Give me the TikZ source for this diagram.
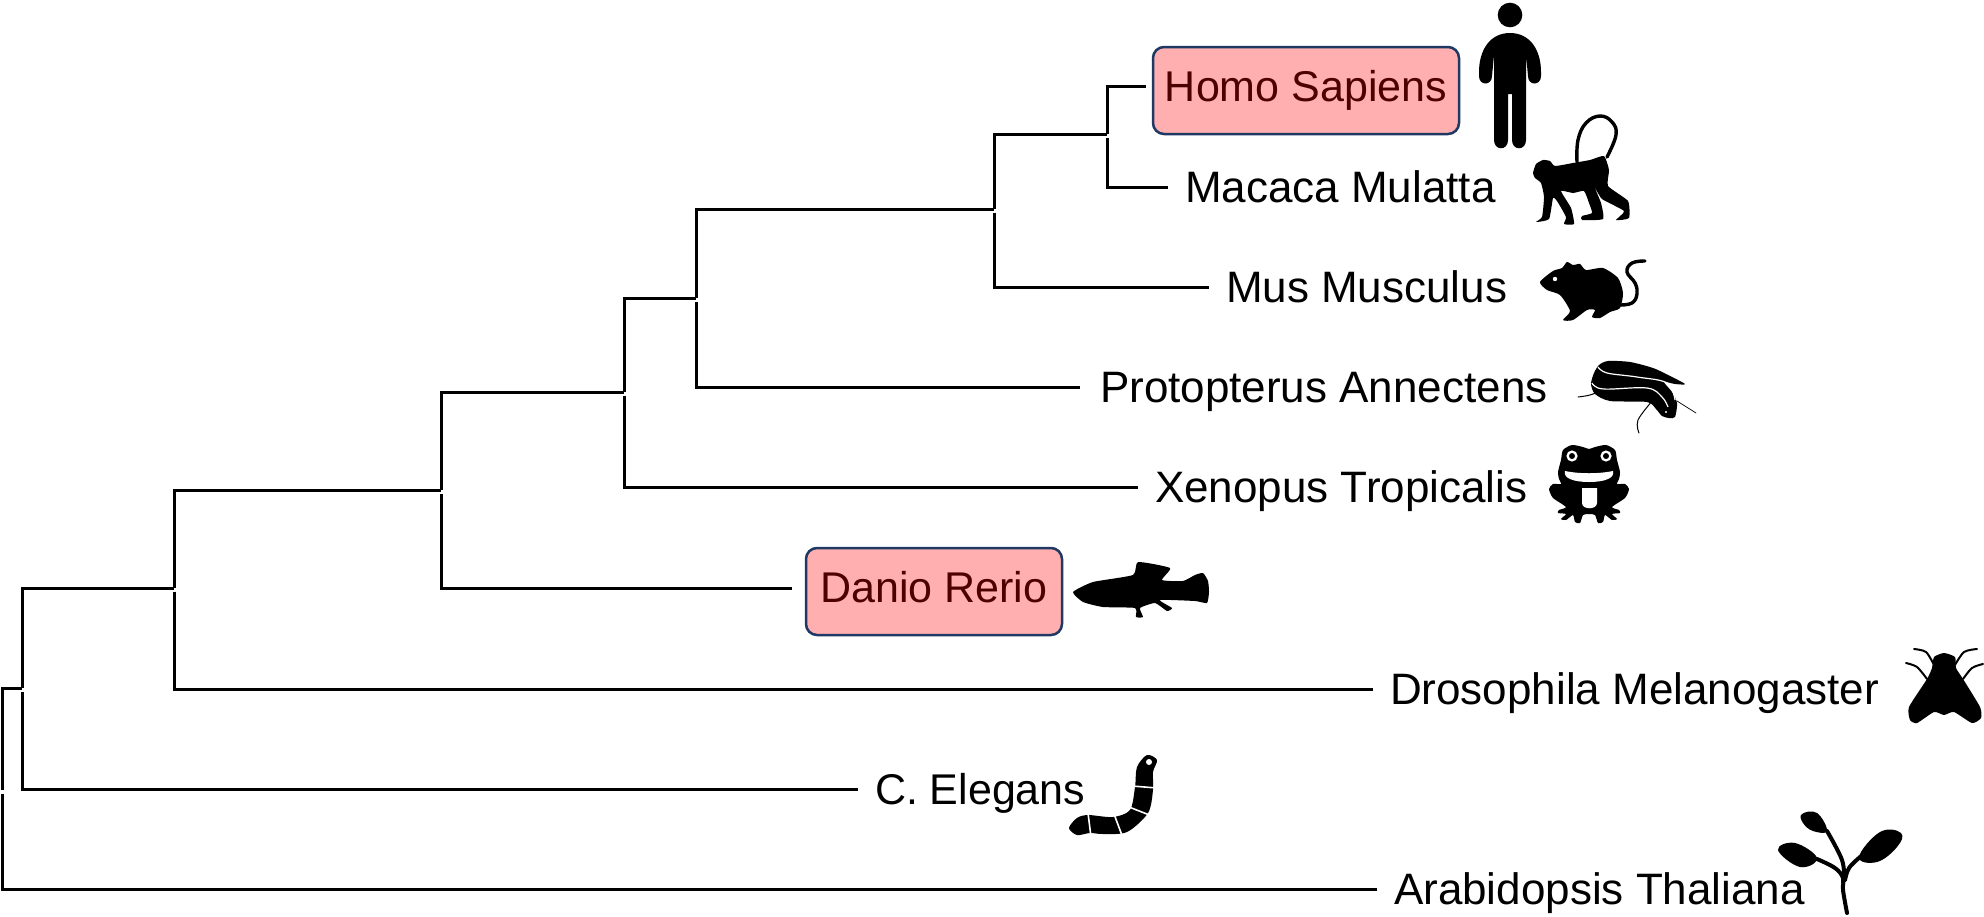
\documentclass[tikz,border=0pt]{standalone}
\usepackage{fontspec}
\setmainfont{Liberation Sans}
\definecolor{boxfill}{HTML}{FFAFAF}
\definecolor{boxline}{HTML}{1F3864}
\definecolor{boxtext}{HTML}{4D0000}
\tikzset{
    taxon/.style={anchor=west,inner xsep=17pt,inner ysep=0pt,outer sep=0pt,text height=31pt,text depth=0pt,font=\fontsize{44}{44}\selectfont},
    marked/.style={draw=boxline,line width=2.5pt,fill=boxfill,text=boxtext,rounded corners=11pt,inner sep=0pt,outer sep=0pt,align=center,text height=31pt,text depth=9pt,font=\fontsize{43}{43}\selectfont},
    branch/.style={draw,line width=3pt,line cap=butt},
    lower/.style={branch,shorten <=3.5pt},
    icon/.style={fill=black,draw=none},
    limb/.style={draw=black,line width=3.4pt,line cap=round,line join=round},
    thinfin/.style={draw=black,line width=1pt,line cap=round},
    cut/.style={draw=white,line width=1.2pt}
}
\begin{document}
\begin{tikzpicture}[x=1pt,y=-1pt]
    \useasboundingbox (0,0) rectangle (1984,916);
    % inner forks of the tree
    \coordinate (root) at (2,790);
    \coordinate (n1) at (22,688);
    \coordinate (n2) at (174,588);
    \coordinate (n3) at (441,490);
    \coordinate (n4) at (624,392);
    \coordinate (n5) at (696,298);
    \coordinate (n6) at (994,209);
    \coordinate (n7) at (1107,134);
    % species
    \node[marked,minimum width=306pt,minimum height=87pt] (homo) at (1306,90.5) {Homo Sapiens};
    \node[taxon] (macaca) at (1168,187) {Macaca Mulatta};
    \node[taxon] (mus) at (1209,287) {Mus Musculus};
    \node[taxon,inner xsep=20pt] (protopterus) at (1080,387) {Protopterus Annectens};
    \node[taxon] (xenopus) at (1138,487) {Xenopus Tropicalis};
    \node[marked,minimum width=256pt,minimum height=87pt] (danio) at (934,591.5) {Danio Rerio};
    \node[taxon] (drosophila) at (1373,689) {Drosophila Melanogaster};
    \node[taxon,font=\fontsize{43}{43}\selectfont] (elegans) at (858,789) {C. Elegans};
    \node[taxon] (arabidopsis) at (1377,889) {Arabidopsis Thaliana};
    % branches
    \draw[branch] (root) |- (n1);
    \draw[lower] (root) |- (arabidopsis.west);
    \draw[branch] (n1) |- (n2);
    \draw[lower] (n1) |- (elegans.west);
    \draw[branch] (n2) |- (n3);
    \draw[lower] (n2) |- (drosophila.west);
    \draw[branch] (n3) |- (n4);
    \draw[lower,shorten >=14pt] (n3) |- (danio.west |- 0,588);
    \draw[branch] (n4) |- (n5);
    \draw[lower] (n4) |- (xenopus.west);
    \draw[branch] (n5) |- (n6);
    \draw[lower] (n5) |- (protopterus.west);
    \draw[branch] (n6) |- (n7);
    \draw[lower] (n6) |- (mus.west);
    \draw[branch,shorten >=7pt] (n7) |- (homo.west |- 0,86);
    \draw[lower] (n7) |- (macaca.west);
    % human
    \fill[icon] (1510,15) circle (12.3pt);
    \fill[icon] (1510,33) .. controls (1490,33) and (1479,50) .. (1479,72) -- (1479,76)
        .. controls (1479,86) and (1492,86) .. (1492,76) -- (1494,55) -- (1494,140)
        .. controls (1494,151) and (1508,151) .. (1508,140) -- (1508,94) -- (1512,94) -- (1512,140)
        .. controls (1512,151) and (1526,151) .. (1526,140) -- (1526,55) -- (1528,76)
        .. controls (1528,86) and (1541,86) .. (1541,76) -- (1541,72)
        .. controls (1541,50) and (1530,33) .. (1510,33) -- cycle;
    % macaque
    \draw[limb] plot[smooth,tension=.7] coordinates {(1577,162) (1578,140) (1586,123) (1600,116) (1612,122) (1616,135) (1607,157)};
    \fill[icon] plot[smooth cycle,tension=.3] coordinates {(1533,173) (1536,164) (1543,160) (1550,161) (1555,166) (1573,163) (1590,160) (1604,156) (1609,170) (1608,186) (1628,201) (1629,218) (1616,220) (1624,211) (1602,199) (1594,186) (1601,203) (1603,219) (1582,220) (1582,216) (1592,213) (1589,203) (1584,191) (1573,193) (1561,191) (1571,208) (1574,224) (1564,224) (1566,217) (1557,201) (1553,198) (1549,219) (1536,222) (1542,217) (1544,197) (1541,183) (1535,178)};
    % mouse
    \draw[limb] plot[smooth,tension=.7] coordinates {(1620,305) (1632,303) (1637,294) (1635,283) (1627,272) (1632,263) (1645,261)};
    \fill[icon] plot[smooth cycle,tension=.4] coordinates {(1540,282) (1553,271) (1562,268) (1567,262) (1573,265) (1580,264) (1586,270) (1603,268) (1618,278) (1623,293) (1620,308) (1610,312) (1600,318) (1592,317) (1595,310) (1587,310) (1573,320) (1563,320) (1570,311) (1560,295) (1547,290)};
    \fill[white] (1555,279) circle (2.2pt);
    % lungfish
    \fill[icon] plot[smooth cycle,tension=.45] coordinates {(1685,384) (1668,375) (1653,368) (1630,362) (1608,361) (1599,365) (1594,373) (1591,384) (1595,394) (1610,401) (1647,402) (1656,409) (1662,416) (1669,418) (1675,417) (1677,403) (1672,392) (1664,382) (1675,384)};
    \draw[cut] plot[smooth,tension=.6] coordinates {(1598,367) (1607,373) (1637,377) (1667,383) (1675,400)};
    \draw[cut] plot[smooth,tension=.6] coordinates {(1592,383) (1603,389) (1647,388) (1662,397) (1668,407)};
    \draw[thinfin] plot[smooth,tension=.6] coordinates {(1578,397) (1590,395) (1603,390)};
    \draw[thinfin] plot[smooth,tension=.6] coordinates {(1639,433) (1638,420) (1653,400)};
    \draw[thinfin,line width=.7pt] (1677,401) -- (1696,413);
    \fill[white] (1666,412) circle (1.2pt);
    % frog
    \fill[icon] plot[smooth cycle,tension=.4] coordinates {(1589,449) (1583,447) (1572,445) (1563,450) (1561,460) (1558,472) (1559,479) (1561,484) (1553,484) (1549,489) (1553,498) (1566,507) (1559,510) (1558,513) (1566,514) (1561,519) (1566,520) (1573,515) (1575,522) (1580,523) (1583,515) (1589,514) (1595,515) (1598,523) (1603,522) (1605,515) (1612,520) (1617,519) (1612,514) (1620,513) (1619,510) (1612,507) (1625,498) (1629,489) (1625,484) (1617,484) (1619,479) (1620,472) (1617,460) (1615,450) (1606,445) (1595,447)};
    \fill[white] (1572,456) circle (5.6pt) (1606,456) circle (5.6pt);
    \fill[icon] (1572,456) circle (3pt) (1606,456) circle (3pt);
    \fill[white] (1565,471) .. controls (1580,474) and (1598,474) .. (1613,471) .. controls (1615,478) and (1605,482) .. (1589,482) .. controls (1573,482) and (1563,478) .. (1565,471) -- cycle;
    \fill[white] (1582,488) -- (1597,488) -- (1597,503) .. controls (1597,510) and (1582,510) .. (1582,503) -- cycle;
    % zebrafish
    \fill[icon] plot[smooth cycle,tension=.3] coordinates {(1073,592) (1093,582) (1133,575) (1138,562) (1170,568) (1162,580) (1183,581) (1195,575) (1203,573) (1208,581) (1209,592) (1207,603) (1195,601) (1160,600) (1172,608) (1167,611) (1155,603) (1140,608) (1143,617) (1136,617) (1135,608) (1103,607) (1083,602)};
    % fly
    \fill[icon] plot[smooth cycle,tension=.35] coordinates {(1944,653) (1934,657) (1932,668) (1927,679) (1909,707) (1910,720) (1917,723) (1934,712) (1944,715) (1954,712) (1972,723) (1981,718) (1980,707) (1963,679) (1956,668) (1955,657)};
    \draw[limb,line width=2pt] plot[smooth,tension=.5] coordinates {(1934,665) (1926,652) (1914,649)};
    \draw[limb,line width=2pt] plot[smooth,tension=.5] coordinates {(1927,679) (1917,667) (1906,663)};
    \draw[limb,line width=2pt] plot[smooth,tension=.5] coordinates {(1955,665) (1964,652) (1977,649)};
    \draw[limb,line width=2pt] plot[smooth,tension=.5] coordinates {(1963,679) (1972,668) (1983,664)};
    % worm
    \fill[icon] plot[smooth cycle,tension=.5] coordinates {(1069,828) (1077,818) (1088,815) (1113,817) (1130,810) (1135,787) (1137,767) (1147,755) (1157,760) (1153,772) (1153,790) (1148,813) (1127,832) (1103,834) (1090,833) (1077,835)};
    \fill[white] (1149,762) circle (3pt);
    \draw[cut,line width=1.6pt] (1088,813) -- (1091,837);
    \draw[cut,line width=1.6pt] (1114,814) -- (1123,838);
    \draw[cut,line width=1.6pt] (1129,807) -- (1152,816);
    \draw[cut,line width=1.6pt] (1132,786) -- (1157,788);
    % plant
    \draw[limb,line width=4pt] plot[smooth,tension=.6] coordinates {(1847,913) (1843,890) (1843,878) (1835,868) (1817,859)};
    \draw[limb,line width=4pt] plot[smooth,tension=.6] coordinates {(1844,880) (1842,860) (1827,831)};
    \draw[limb,line width=4pt] plot[smooth,tension=.6] coordinates {(1845,880) (1849,868) (1860,857)};
    \fill[icon] plot[smooth cycle,tension=.7] coordinates {(1778,850) (1795,843) (1817,858) (1800,867)};
    \fill[icon] plot[smooth cycle,tension=.7] coordinates {(1802,814) (1817,813) (1827,831) (1813,831) (1803,823)};
    \fill[icon] plot[smooth cycle,tension=.7] coordinates {(1901,833) (1880,832) (1859,857) (1877,862) (1897,847)};
\end{tikzpicture}
\end{document}
